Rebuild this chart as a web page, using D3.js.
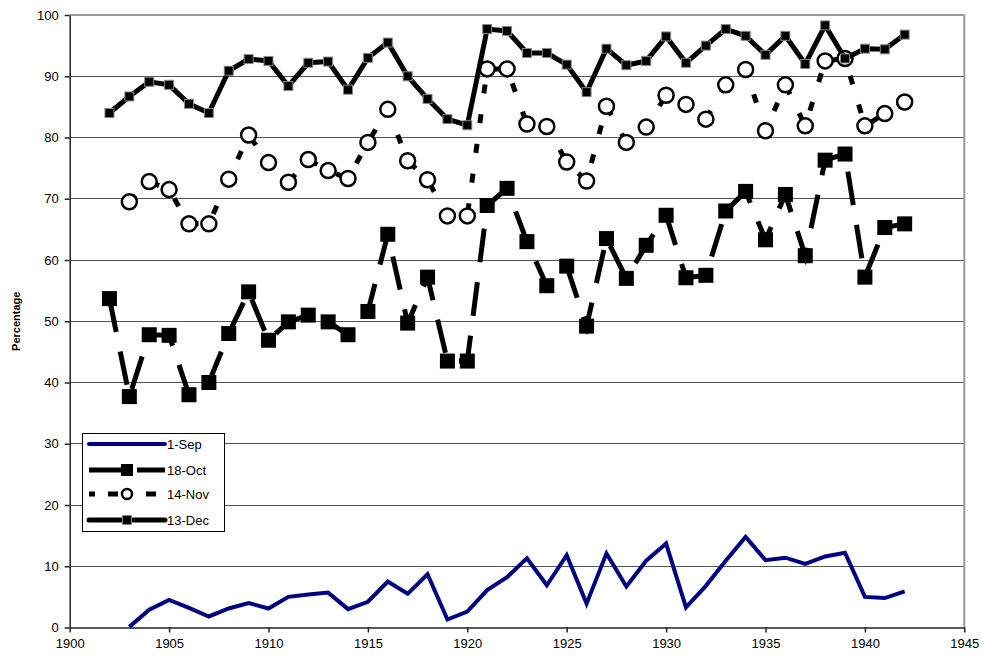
<!DOCTYPE html>
<html><head><meta charset="utf-8">
<script src="https://cdn.jsdelivr.net/npm/d3@7"></script>
<style>body{margin:0;background:#fff}svg{display:block;font-family:"Liberation Sans",Arial,sans-serif}</style>
</head><body><svg id="c" width="982" height="656"></svg>
<script>
const yearsA = d3.range(1902, 1943);           // 1902..1942
const yearsB = d3.range(1903, 1943);           // 1903..1942
const sep1 = [0.1,2.9,4.5,3.2,1.8,3.1,4.0,3.1,5.0,5.4,5.7,3.0,4.2,7.5,5.5,8.7,1.3,2.6,6.1,8.2,11.3,6.9,11.8,3.9,12.1,6.7,10.9,13.7,3.3,6.8,10.9,14.8,11.0,11.4,10.4,11.6,12.2,5.0,4.8,5.9];
const oct18 = [53.7,37.7,47.8,47.7,38.0,40.0,48.0,54.8,46.9,49.9,51.0,49.9,47.8,51.6,64.2,49.7,57.2,43.5,43.5,68.9,71.7,63.0,55.8,59.0,49.2,63.5,57.0,62.4,67.3,57.1,57.5,68.0,71.2,63.3,70.7,60.7,76.3,77.3,57.2,65.3,65.9];
const nov14 = [69.5,72.8,71.5,65.9,65.9,73.2,80.4,75.9,72.7,76.4,74.6,73.3,79.2,84.6,76.2,73.1,67.2,67.2,91.2,91.2,82.2,81.8,76.0,72.9,85.1,79.2,81.7,86.9,85.4,83.0,88.6,91.1,81.1,88.6,81.9,92.5,92.9,81.9,83.9,85.8];
const dec13 = [84.0,86.7,89.1,88.6,85.5,84.0,90.9,92.8,92.5,88.4,92.2,92.4,87.8,93.0,95.5,90.0,86.3,83.0,82.0,97.7,97.4,93.8,93.8,91.9,87.4,94.5,91.8,92.5,96.5,92.2,95.0,97.7,96.6,93.5,96.6,92.0,98.3,92.9,94.5,94.4,96.8];
const xTicks = d3.range(1900, 1946, 5);
const yTicks = d3.range(0, 101, 10);
const seriesNames = ["1-Sep","18-Oct","14-Nov","13-Dec"];

const svg = d3.select("#c");
const x = d3.scaleLinear().domain([1900,1945]).range([69.7,964.3]);
const y = d3.scaleLinear().domain([0,100]).range([627.5,15]);

// gridlines
svg.append("g").selectAll("line").data(yTicks.filter(v=>v>0&&v<100)).join("line")
  .attr("x1",x(1900)).attr("x2",x(1945)).attr("y1",d=>y(d)).attr("y2",d=>y(d))
  .attr("stroke","#555").attr("stroke-width",1).attr("shape-rendering","crispEdges");
// top/right border
svg.append("line").attr("x1",x(1900)).attr("x2",x(1945)).attr("y1",y(100)).attr("y2",y(100)).attr("stroke","#999").attr("stroke-width",2);
svg.append("line").attr("x1",x(1945)).attr("x2",x(1945)).attr("y1",y(100)).attr("y2",y(0)).attr("stroke","#999").attr("stroke-width",2);

// axes
const ya = svg.append("g").attr("transform",`translate(${x(1900)},0)`)
  .call(d3.axisLeft(y).tickValues(yTicks).tickSize(5).tickPadding(6).tickSizeOuter(0));
const xa = svg.append("g").attr("transform",`translate(0,${y(0)})`)
  .call(d3.axisBottom(x).tickValues(xTicks).tickFormat(d3.format("d")).tickSize(5).tickPadding(6).tickSizeOuter(0));
[ya,xa].forEach(a=>{a.selectAll("path,line").attr("stroke","#222").attr("stroke-width",1.5);
  a.selectAll("text").attr("font-size",13).attr("fill","#000").attr("font-family","'Liberation Sans',Arial,sans-serif");});

svg.append("text").attr("transform",`translate(20,${y(50)}) rotate(-90)`).attr("text-anchor","middle")
  .attr("font-size",11).attr("font-weight","bold").text("Percentage");

const line = d3.line().x(d=>x(d[0])).y(d=>y(d[1]));
const dSep = yearsB.map((t,i)=>[t,sep1[i]]);
const dOct = yearsA.map((t,i)=>[t,oct18[i]]);
const dNov = yearsB.map((t,i)=>[t,nov14[i]]);
const dDec = yearsA.map((t,i)=>[t,dec13[i]]);

// 1-Sep
svg.append("path").attr("d",line(dSep)).attr("fill","none").attr("stroke","#000080").attr("stroke-width",4).attr("stroke-linejoin","miter");
// 18-Oct
svg.append("path").attr("d",line(dOct)).attr("fill","none").attr("stroke","#000").attr("stroke-width",5).attr("stroke-dasharray","34,20");
svg.append("g").selectAll("rect").data(dOct).join("rect")
  .attr("x",d=>x(d[0])-7.5).attr("y",d=>y(d[1])-7.5).attr("width",15).attr("height",15).attr("fill","#000");
// 14-Nov
svg.append("path").attr("d",line(dNov)).attr("fill","none").attr("stroke","#000").attr("stroke-width",5).attr("stroke-dasharray","9,21");
svg.append("g").selectAll("circle").data(dNov).join("circle")
  .attr("cx",d=>x(d[0])).attr("cy",d=>y(d[1])).attr("r",7.5).attr("fill","#fff").attr("stroke","#000").attr("stroke-width",2.5);
// 13-Dec
svg.append("path").attr("d",line(dDec)).attr("fill","none").attr("stroke","#000").attr("stroke-width",5).attr("stroke-linejoin","miter");
svg.append("g").selectAll("rect").data(dDec).join("rect")
  .attr("x",d=>x(d[0])-4.5).attr("y",d=>y(d[1])-4.5).attr("width",9).attr("height",9).attr("fill","#000").attr("stroke","#888").attr("stroke-width",1);

// legend
const lg = svg.append("g");
lg.append("rect").attr("x",82.5).attr("y",433.5).attr("width",142).attr("height",98).attr("fill","#fff").attr("stroke","#000").attr("stroke-width",1);
const ly = [444,470,494,520];
const lx1 = 89, lx2 = 165, lxm = 127;
lg.append("line").attr("x1",lx1).attr("x2",lx2).attr("y1",ly[0]).attr("y2",ly[0]).attr("stroke","#000080").attr("stroke-width",4).attr("stroke-linecap","round");
lg.append("line").attr("x1",lx1).attr("x2",lx2).attr("y1",ly[1]).attr("y2",ly[1]).attr("stroke","#000").attr("stroke-width",5).attr("stroke-dasharray","34,14");
lg.append("rect").attr("x",lxm-6).attr("y",ly[1]-6).attr("width",12).attr("height",12).attr("fill","#000");
lg.append("line").attr("x1",lx1).attr("x2",lx2).attr("y1",ly[2]).attr("y2",ly[2]).attr("stroke","#000").attr("stroke-width",5).attr("stroke-dasharray","6,13,10,100").attr("stroke-dashoffset",0);
lg.append("line").attr("x1",lx2-19).attr("x2",lx2-9).attr("y1",ly[2]).attr("y2",ly[2]).attr("stroke","#000").attr("stroke-width",5);
lg.append("circle").attr("cx",lxm).attr("cy",ly[2]).attr("r",5).attr("fill","#fff").attr("stroke","#000").attr("stroke-width",2.5);
lg.append("line").attr("x1",lx1).attr("x2",lx2).attr("y1",ly[3]).attr("y2",ly[3]).attr("stroke","#000").attr("stroke-width",5).attr("stroke-linecap","round");
lg.append("rect").attr("x",lxm-4.5).attr("y",ly[3]-4.5).attr("width",9).attr("height",9).attr("fill","#000").attr("stroke","#888").attr("stroke-width",1);
lg.selectAll("text.l").data(seriesNames).join("text").attr("class","l")
  .attr("x",167).attr("y",(d,i)=>ly[i]).attr("dy","0.35em").attr("font-size",13).text(d=>d);
</script></body></html>
